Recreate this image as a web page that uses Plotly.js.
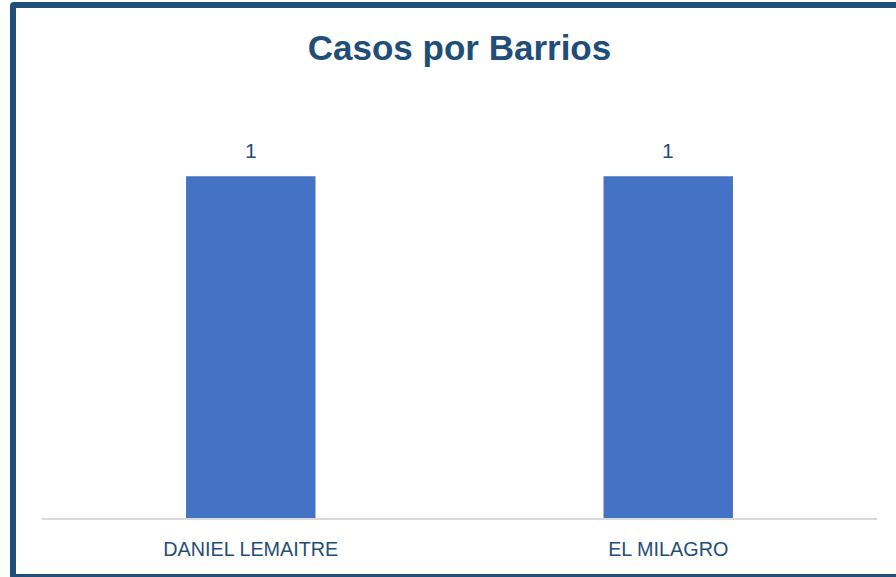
<!DOCTYPE html>
<html><head><meta charset="utf-8">
<script src="https://cdn.plot.ly/plotly-3.0.1.min.js"></script>
<style>
html,body{margin:0;padding:0;background:#fff;overflow:hidden;}
#chart{position:absolute;left:0;top:0;width:896px;height:577px;}
#frame{position:absolute;left:10px;top:2px;width:900px;height:566px;border:6px solid #1F4E79;border-radius:4px;pointer-events:none;}
</style></head>
<body>
<div id="chart"></div>
<div id="frame"></div>
<script>
const categories = ["DANIEL LEMAITRE", "EL MILAGRO"];
const values = [1, 1];
const titleText = "Casos por Barrios";

const font = "'Liberation Sans', Arial, sans-serif";
Plotly.newPlot('chart', [{
  type: 'bar',
  x: categories,
  y: values,
  marker: {color: '#4472C4'},
  hoverinfo: 'skip'
}], {
  width: 896, height: 577,
  margin: {l: 42, r: 19, t: 108, b: 59},
  paper_bgcolor: '#fff', plot_bgcolor: '#fff',
  bargap: 0.69,
  showlegend: false,
  title: {text: titleText, font: {family: font, size: 35, color: '#1F4E79', weight: 'bold'}, xref: 'paper', x: 0.5, xanchor: 'center', y: 0.917, yanchor: 'middle'},
  annotations: categories.map((c, i) => ({
    x: c, y: values[i], xref: 'x', yref: 'y', text: String(values[i]),
    showarrow: false, yanchor: 'middle', yshift: 26,
    font: {family: font, size: 21, color: '#1F4E79'}
  })),
  xaxis: {showline: true, linecolor: '#D9D9D9', linewidth: 1.5, showgrid: false, ticks: '', tickfont: {family: font, size: 19.8, color: '#1F4E79'}, ticklabelstandoff: 13},
  yaxis: {range: [0, 1.2], visible: false, showgrid: false, zeroline: false}
}, {displayModeBar: false, staticPlot: true});
</script>
</body></html>
